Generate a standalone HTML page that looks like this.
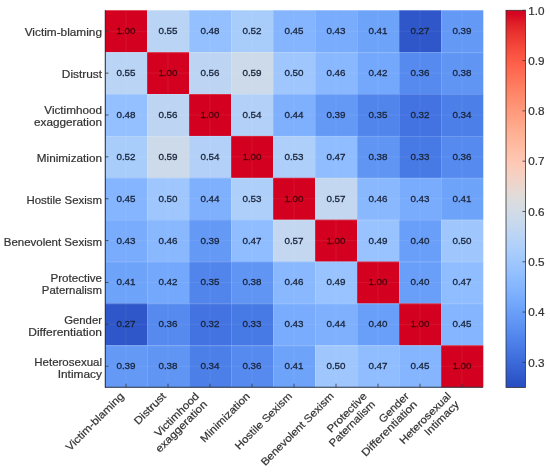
<!DOCTYPE html><html><head><meta charset="utf-8"><style>html,body{margin:0;padding:0;background:#fff;overflow:hidden;}svg{display:block;filter:blur(0.35px);}text{font-family:"Liberation Sans",sans-serif;}</style></head><body>
<svg width="550" height="472" viewBox="0 0 550 472">
<rect width="550" height="472" fill="#fff"/>
<rect x="105.00" y="10.30" width="42.30" height="42.17" fill="#d3001f"/>
<rect x="147.00" y="10.30" width="42.30" height="42.17" fill="#b9d4f5"/>
<rect x="189.00" y="10.30" width="42.30" height="42.17" fill="#94c0ff"/>
<rect x="231.00" y="10.30" width="42.30" height="42.17" fill="#a9cdfb"/>
<rect x="273.00" y="10.30" width="42.30" height="42.17" fill="#84b5fe"/>
<rect x="315.00" y="10.30" width="42.30" height="42.17" fill="#79acfd"/>
<rect x="357.00" y="10.30" width="42.30" height="42.17" fill="#6ea3fa"/>
<rect x="399.00" y="10.30" width="42.30" height="42.17" fill="#2f57c9"/>
<rect x="441.00" y="10.30" width="42.30" height="42.17" fill="#6499f6"/>
<rect x="105.00" y="52.17" width="42.30" height="42.17" fill="#b9d4f5"/>
<rect x="147.00" y="52.17" width="42.30" height="42.17" fill="#d3001f"/>
<rect x="189.00" y="52.17" width="42.30" height="42.17" fill="#bdd5f3"/>
<rect x="231.00" y="52.17" width="42.30" height="42.17" fill="#cddae9"/>
<rect x="273.00" y="52.17" width="42.30" height="42.17" fill="#9fc7fd"/>
<rect x="315.00" y="52.17" width="42.30" height="42.17" fill="#89b8ff"/>
<rect x="357.00" y="52.17" width="42.30" height="42.17" fill="#74a8fc"/>
<rect x="399.00" y="52.17" width="42.30" height="42.17" fill="#568aef"/>
<rect x="441.00" y="52.17" width="42.30" height="42.17" fill="#6095f4"/>
<rect x="105.00" y="94.05" width="42.30" height="42.17" fill="#94c0ff"/>
<rect x="147.00" y="94.05" width="42.30" height="42.17" fill="#bdd5f3"/>
<rect x="189.00" y="94.05" width="42.30" height="42.17" fill="#d3001f"/>
<rect x="231.00" y="94.05" width="42.30" height="42.17" fill="#b3d1f8"/>
<rect x="273.00" y="94.05" width="42.30" height="42.17" fill="#7eb0fe"/>
<rect x="315.00" y="94.05" width="42.30" height="42.17" fill="#6499f6"/>
<rect x="357.00" y="94.05" width="42.30" height="42.17" fill="#5285ec"/>
<rect x="399.00" y="94.05" width="42.30" height="42.17" fill="#4373e0"/>
<rect x="441.00" y="94.05" width="42.30" height="42.17" fill="#4c7fe8"/>
<rect x="105.00" y="135.93" width="42.30" height="42.17" fill="#a9cdfb"/>
<rect x="147.00" y="135.93" width="42.30" height="42.17" fill="#cddae9"/>
<rect x="189.00" y="135.93" width="42.30" height="42.17" fill="#b3d1f8"/>
<rect x="231.00" y="135.93" width="42.30" height="42.17" fill="#d3001f"/>
<rect x="273.00" y="135.93" width="42.30" height="42.17" fill="#aecff9"/>
<rect x="315.00" y="135.93" width="42.30" height="42.17" fill="#8fbdff"/>
<rect x="357.00" y="135.93" width="42.30" height="42.17" fill="#6095f4"/>
<rect x="399.00" y="135.93" width="42.30" height="42.17" fill="#487ae5"/>
<rect x="441.00" y="135.93" width="42.30" height="42.17" fill="#568aef"/>
<rect x="105.00" y="177.80" width="42.30" height="42.17" fill="#84b5fe"/>
<rect x="147.00" y="177.80" width="42.30" height="42.17" fill="#9fc7fd"/>
<rect x="189.00" y="177.80" width="42.30" height="42.17" fill="#7eb0fe"/>
<rect x="231.00" y="177.80" width="42.30" height="42.17" fill="#aecff9"/>
<rect x="273.00" y="177.80" width="42.30" height="42.17" fill="#d3001f"/>
<rect x="315.00" y="177.80" width="42.30" height="42.17" fill="#c3d7f0"/>
<rect x="357.00" y="177.80" width="42.30" height="42.17" fill="#89b8ff"/>
<rect x="399.00" y="177.80" width="42.30" height="42.17" fill="#79acfd"/>
<rect x="441.00" y="177.80" width="42.30" height="42.17" fill="#6ea3fa"/>
<rect x="105.00" y="219.68" width="42.30" height="42.17" fill="#79acfd"/>
<rect x="147.00" y="219.68" width="42.30" height="42.17" fill="#89b8ff"/>
<rect x="189.00" y="219.68" width="42.30" height="42.17" fill="#6499f6"/>
<rect x="231.00" y="219.68" width="42.30" height="42.17" fill="#8fbdff"/>
<rect x="273.00" y="219.68" width="42.30" height="42.17" fill="#c3d7f0"/>
<rect x="315.00" y="219.68" width="42.30" height="42.17" fill="#d3001f"/>
<rect x="357.00" y="219.68" width="42.30" height="42.17" fill="#98c3fe"/>
<rect x="399.00" y="219.68" width="42.30" height="42.17" fill="#6a9ff9"/>
<rect x="441.00" y="219.68" width="42.30" height="42.17" fill="#9fc7fd"/>
<rect x="105.00" y="261.55" width="42.30" height="42.17" fill="#6ea3fa"/>
<rect x="147.00" y="261.55" width="42.30" height="42.17" fill="#74a8fc"/>
<rect x="189.00" y="261.55" width="42.30" height="42.17" fill="#5285ec"/>
<rect x="231.00" y="261.55" width="42.30" height="42.17" fill="#6095f4"/>
<rect x="273.00" y="261.55" width="42.30" height="42.17" fill="#89b8ff"/>
<rect x="315.00" y="261.55" width="42.30" height="42.17" fill="#98c3fe"/>
<rect x="357.00" y="261.55" width="42.30" height="42.17" fill="#d3001f"/>
<rect x="399.00" y="261.55" width="42.30" height="42.17" fill="#6a9ff9"/>
<rect x="441.00" y="261.55" width="42.30" height="42.17" fill="#8fbdff"/>
<rect x="105.00" y="303.43" width="42.30" height="42.17" fill="#2f57c9"/>
<rect x="147.00" y="303.43" width="42.30" height="42.17" fill="#568aef"/>
<rect x="189.00" y="303.43" width="42.30" height="42.17" fill="#4373e0"/>
<rect x="231.00" y="303.43" width="42.30" height="42.17" fill="#487ae5"/>
<rect x="273.00" y="303.43" width="42.30" height="42.17" fill="#79acfd"/>
<rect x="315.00" y="303.43" width="42.30" height="42.17" fill="#7eb0fe"/>
<rect x="357.00" y="303.43" width="42.30" height="42.17" fill="#6a9ff9"/>
<rect x="399.00" y="303.43" width="42.30" height="42.17" fill="#d3001f"/>
<rect x="441.00" y="303.43" width="42.30" height="42.17" fill="#84b5fe"/>
<rect x="105.00" y="345.30" width="42.30" height="42.17" fill="#6499f6"/>
<rect x="147.00" y="345.30" width="42.30" height="42.17" fill="#6095f4"/>
<rect x="189.00" y="345.30" width="42.30" height="42.17" fill="#4c7fe8"/>
<rect x="231.00" y="345.30" width="42.30" height="42.17" fill="#568aef"/>
<rect x="273.00" y="345.30" width="42.30" height="42.17" fill="#6ea3fa"/>
<rect x="315.00" y="345.30" width="42.30" height="42.17" fill="#9fc7fd"/>
<rect x="357.00" y="345.30" width="42.30" height="42.17" fill="#8fbdff"/>
<rect x="399.00" y="345.30" width="42.30" height="42.17" fill="#84b5fe"/>
<rect x="441.00" y="345.30" width="42.30" height="42.17" fill="#d3001f"/>
<line x1="126.00" y1="10.3" x2="126.00" y2="387.18" stroke="#fff" stroke-opacity="0.09" stroke-width="0.8"/>
<line x1="105.0" y1="31.24" x2="483.00" y2="31.24" stroke="#fff" stroke-opacity="0.09" stroke-width="0.8"/>
<line x1="168.00" y1="10.3" x2="168.00" y2="387.18" stroke="#fff" stroke-opacity="0.09" stroke-width="0.8"/>
<line x1="105.0" y1="73.11" x2="483.00" y2="73.11" stroke="#fff" stroke-opacity="0.09" stroke-width="0.8"/>
<line x1="210.00" y1="10.3" x2="210.00" y2="387.18" stroke="#fff" stroke-opacity="0.09" stroke-width="0.8"/>
<line x1="105.0" y1="114.99" x2="483.00" y2="114.99" stroke="#fff" stroke-opacity="0.09" stroke-width="0.8"/>
<line x1="252.00" y1="10.3" x2="252.00" y2="387.18" stroke="#fff" stroke-opacity="0.09" stroke-width="0.8"/>
<line x1="105.0" y1="156.86" x2="483.00" y2="156.86" stroke="#fff" stroke-opacity="0.09" stroke-width="0.8"/>
<line x1="294.00" y1="10.3" x2="294.00" y2="387.18" stroke="#fff" stroke-opacity="0.09" stroke-width="0.8"/>
<line x1="105.0" y1="198.74" x2="483.00" y2="198.74" stroke="#fff" stroke-opacity="0.09" stroke-width="0.8"/>
<line x1="336.00" y1="10.3" x2="336.00" y2="387.18" stroke="#fff" stroke-opacity="0.09" stroke-width="0.8"/>
<line x1="105.0" y1="240.61" x2="483.00" y2="240.61" stroke="#fff" stroke-opacity="0.09" stroke-width="0.8"/>
<line x1="378.00" y1="10.3" x2="378.00" y2="387.18" stroke="#fff" stroke-opacity="0.09" stroke-width="0.8"/>
<line x1="105.0" y1="282.49" x2="483.00" y2="282.49" stroke="#fff" stroke-opacity="0.09" stroke-width="0.8"/>
<line x1="420.00" y1="10.3" x2="420.00" y2="387.18" stroke="#fff" stroke-opacity="0.09" stroke-width="0.8"/>
<line x1="105.0" y1="324.36" x2="483.00" y2="324.36" stroke="#fff" stroke-opacity="0.09" stroke-width="0.8"/>
<line x1="462.00" y1="10.3" x2="462.00" y2="387.18" stroke="#fff" stroke-opacity="0.09" stroke-width="0.8"/>
<line x1="105.0" y1="366.24" x2="483.00" y2="366.24" stroke="#fff" stroke-opacity="0.09" stroke-width="0.8"/>
<line x1="147.50" y1="10.3" x2="147.50" y2="387.18" stroke="#fff" stroke-opacity="0.15" stroke-width="1"/>
<line x1="105.0" y1="52.67" x2="483.00" y2="52.67" stroke="#fff" stroke-opacity="0.15" stroke-width="1"/>
<line x1="189.50" y1="10.3" x2="189.50" y2="387.18" stroke="#fff" stroke-opacity="0.15" stroke-width="1"/>
<line x1="105.0" y1="94.55" x2="483.00" y2="94.55" stroke="#fff" stroke-opacity="0.15" stroke-width="1"/>
<line x1="231.50" y1="10.3" x2="231.50" y2="387.18" stroke="#fff" stroke-opacity="0.15" stroke-width="1"/>
<line x1="105.0" y1="136.43" x2="483.00" y2="136.43" stroke="#fff" stroke-opacity="0.15" stroke-width="1"/>
<line x1="273.50" y1="10.3" x2="273.50" y2="387.18" stroke="#fff" stroke-opacity="0.15" stroke-width="1"/>
<line x1="105.0" y1="178.30" x2="483.00" y2="178.30" stroke="#fff" stroke-opacity="0.15" stroke-width="1"/>
<line x1="315.50" y1="10.3" x2="315.50" y2="387.18" stroke="#fff" stroke-opacity="0.15" stroke-width="1"/>
<line x1="105.0" y1="220.18" x2="483.00" y2="220.18" stroke="#fff" stroke-opacity="0.15" stroke-width="1"/>
<line x1="357.50" y1="10.3" x2="357.50" y2="387.18" stroke="#fff" stroke-opacity="0.15" stroke-width="1"/>
<line x1="105.0" y1="262.05" x2="483.00" y2="262.05" stroke="#fff" stroke-opacity="0.15" stroke-width="1"/>
<line x1="399.50" y1="10.3" x2="399.50" y2="387.18" stroke="#fff" stroke-opacity="0.15" stroke-width="1"/>
<line x1="105.0" y1="303.93" x2="483.00" y2="303.93" stroke="#fff" stroke-opacity="0.15" stroke-width="1"/>
<line x1="441.50" y1="10.3" x2="441.50" y2="387.18" stroke="#fff" stroke-opacity="0.15" stroke-width="1"/>
<line x1="105.0" y1="345.80" x2="483.00" y2="345.80" stroke="#fff" stroke-opacity="0.15" stroke-width="1"/>
<text x="126.00" y="34.14" font-size="9.80" text-anchor="middle" fill="#4a000c" stroke="#4a000c" stroke-width="0.3" textLength="19.15" lengthAdjust="spacingAndGlyphs">1.00</text>
<text x="168.00" y="34.14" font-size="9.80" text-anchor="middle" fill="#18243a" stroke="#18243a" stroke-width="0.3" textLength="19.15" lengthAdjust="spacingAndGlyphs">0.55</text>
<text x="210.00" y="34.14" font-size="9.80" text-anchor="middle" fill="#18243a" stroke="#18243a" stroke-width="0.3" textLength="19.15" lengthAdjust="spacingAndGlyphs">0.48</text>
<text x="252.00" y="34.14" font-size="9.80" text-anchor="middle" fill="#18243a" stroke="#18243a" stroke-width="0.3" textLength="19.15" lengthAdjust="spacingAndGlyphs">0.52</text>
<text x="294.00" y="34.14" font-size="9.80" text-anchor="middle" fill="#18243a" stroke="#18243a" stroke-width="0.3" textLength="19.15" lengthAdjust="spacingAndGlyphs">0.45</text>
<text x="336.00" y="34.14" font-size="9.80" text-anchor="middle" fill="#18243a" stroke="#18243a" stroke-width="0.3" textLength="19.15" lengthAdjust="spacingAndGlyphs">0.43</text>
<text x="378.00" y="34.14" font-size="9.80" text-anchor="middle" fill="#18243a" stroke="#18243a" stroke-width="0.3" textLength="19.15" lengthAdjust="spacingAndGlyphs">0.41</text>
<text x="420.00" y="34.14" font-size="9.80" text-anchor="middle" fill="#18243a" stroke="#18243a" stroke-width="0.3" textLength="19.15" lengthAdjust="spacingAndGlyphs">0.27</text>
<text x="462.00" y="34.14" font-size="9.80" text-anchor="middle" fill="#18243a" stroke="#18243a" stroke-width="0.3" textLength="19.15" lengthAdjust="spacingAndGlyphs">0.39</text>
<text x="126.00" y="76.01" font-size="9.80" text-anchor="middle" fill="#18243a" stroke="#18243a" stroke-width="0.3" textLength="19.15" lengthAdjust="spacingAndGlyphs">0.55</text>
<text x="168.00" y="76.01" font-size="9.80" text-anchor="middle" fill="#4a000c" stroke="#4a000c" stroke-width="0.3" textLength="19.15" lengthAdjust="spacingAndGlyphs">1.00</text>
<text x="210.00" y="76.01" font-size="9.80" text-anchor="middle" fill="#18243a" stroke="#18243a" stroke-width="0.3" textLength="19.15" lengthAdjust="spacingAndGlyphs">0.56</text>
<text x="252.00" y="76.01" font-size="9.80" text-anchor="middle" fill="#18243a" stroke="#18243a" stroke-width="0.3" textLength="19.15" lengthAdjust="spacingAndGlyphs">0.59</text>
<text x="294.00" y="76.01" font-size="9.80" text-anchor="middle" fill="#18243a" stroke="#18243a" stroke-width="0.3" textLength="19.15" lengthAdjust="spacingAndGlyphs">0.50</text>
<text x="336.00" y="76.01" font-size="9.80" text-anchor="middle" fill="#18243a" stroke="#18243a" stroke-width="0.3" textLength="19.15" lengthAdjust="spacingAndGlyphs">0.46</text>
<text x="378.00" y="76.01" font-size="9.80" text-anchor="middle" fill="#18243a" stroke="#18243a" stroke-width="0.3" textLength="19.15" lengthAdjust="spacingAndGlyphs">0.42</text>
<text x="420.00" y="76.01" font-size="9.80" text-anchor="middle" fill="#18243a" stroke="#18243a" stroke-width="0.3" textLength="19.15" lengthAdjust="spacingAndGlyphs">0.36</text>
<text x="462.00" y="76.01" font-size="9.80" text-anchor="middle" fill="#18243a" stroke="#18243a" stroke-width="0.3" textLength="19.15" lengthAdjust="spacingAndGlyphs">0.38</text>
<text x="126.00" y="117.89" font-size="9.80" text-anchor="middle" fill="#18243a" stroke="#18243a" stroke-width="0.3" textLength="19.15" lengthAdjust="spacingAndGlyphs">0.48</text>
<text x="168.00" y="117.89" font-size="9.80" text-anchor="middle" fill="#18243a" stroke="#18243a" stroke-width="0.3" textLength="19.15" lengthAdjust="spacingAndGlyphs">0.56</text>
<text x="210.00" y="117.89" font-size="9.80" text-anchor="middle" fill="#4a000c" stroke="#4a000c" stroke-width="0.3" textLength="19.15" lengthAdjust="spacingAndGlyphs">1.00</text>
<text x="252.00" y="117.89" font-size="9.80" text-anchor="middle" fill="#18243a" stroke="#18243a" stroke-width="0.3" textLength="19.15" lengthAdjust="spacingAndGlyphs">0.54</text>
<text x="294.00" y="117.89" font-size="9.80" text-anchor="middle" fill="#18243a" stroke="#18243a" stroke-width="0.3" textLength="19.15" lengthAdjust="spacingAndGlyphs">0.44</text>
<text x="336.00" y="117.89" font-size="9.80" text-anchor="middle" fill="#18243a" stroke="#18243a" stroke-width="0.3" textLength="19.15" lengthAdjust="spacingAndGlyphs">0.39</text>
<text x="378.00" y="117.89" font-size="9.80" text-anchor="middle" fill="#18243a" stroke="#18243a" stroke-width="0.3" textLength="19.15" lengthAdjust="spacingAndGlyphs">0.35</text>
<text x="420.00" y="117.89" font-size="9.80" text-anchor="middle" fill="#18243a" stroke="#18243a" stroke-width="0.3" textLength="19.15" lengthAdjust="spacingAndGlyphs">0.32</text>
<text x="462.00" y="117.89" font-size="9.80" text-anchor="middle" fill="#18243a" stroke="#18243a" stroke-width="0.3" textLength="19.15" lengthAdjust="spacingAndGlyphs">0.34</text>
<text x="126.00" y="159.76" font-size="9.80" text-anchor="middle" fill="#18243a" stroke="#18243a" stroke-width="0.3" textLength="19.15" lengthAdjust="spacingAndGlyphs">0.52</text>
<text x="168.00" y="159.76" font-size="9.80" text-anchor="middle" fill="#18243a" stroke="#18243a" stroke-width="0.3" textLength="19.15" lengthAdjust="spacingAndGlyphs">0.59</text>
<text x="210.00" y="159.76" font-size="9.80" text-anchor="middle" fill="#18243a" stroke="#18243a" stroke-width="0.3" textLength="19.15" lengthAdjust="spacingAndGlyphs">0.54</text>
<text x="252.00" y="159.76" font-size="9.80" text-anchor="middle" fill="#4a000c" stroke="#4a000c" stroke-width="0.3" textLength="19.15" lengthAdjust="spacingAndGlyphs">1.00</text>
<text x="294.00" y="159.76" font-size="9.80" text-anchor="middle" fill="#18243a" stroke="#18243a" stroke-width="0.3" textLength="19.15" lengthAdjust="spacingAndGlyphs">0.53</text>
<text x="336.00" y="159.76" font-size="9.80" text-anchor="middle" fill="#18243a" stroke="#18243a" stroke-width="0.3" textLength="19.15" lengthAdjust="spacingAndGlyphs">0.47</text>
<text x="378.00" y="159.76" font-size="9.80" text-anchor="middle" fill="#18243a" stroke="#18243a" stroke-width="0.3" textLength="19.15" lengthAdjust="spacingAndGlyphs">0.38</text>
<text x="420.00" y="159.76" font-size="9.80" text-anchor="middle" fill="#18243a" stroke="#18243a" stroke-width="0.3" textLength="19.15" lengthAdjust="spacingAndGlyphs">0.33</text>
<text x="462.00" y="159.76" font-size="9.80" text-anchor="middle" fill="#18243a" stroke="#18243a" stroke-width="0.3" textLength="19.15" lengthAdjust="spacingAndGlyphs">0.36</text>
<text x="126.00" y="201.64" font-size="9.80" text-anchor="middle" fill="#18243a" stroke="#18243a" stroke-width="0.3" textLength="19.15" lengthAdjust="spacingAndGlyphs">0.45</text>
<text x="168.00" y="201.64" font-size="9.80" text-anchor="middle" fill="#18243a" stroke="#18243a" stroke-width="0.3" textLength="19.15" lengthAdjust="spacingAndGlyphs">0.50</text>
<text x="210.00" y="201.64" font-size="9.80" text-anchor="middle" fill="#18243a" stroke="#18243a" stroke-width="0.3" textLength="19.15" lengthAdjust="spacingAndGlyphs">0.44</text>
<text x="252.00" y="201.64" font-size="9.80" text-anchor="middle" fill="#18243a" stroke="#18243a" stroke-width="0.3" textLength="19.15" lengthAdjust="spacingAndGlyphs">0.53</text>
<text x="294.00" y="201.64" font-size="9.80" text-anchor="middle" fill="#4a000c" stroke="#4a000c" stroke-width="0.3" textLength="19.15" lengthAdjust="spacingAndGlyphs">1.00</text>
<text x="336.00" y="201.64" font-size="9.80" text-anchor="middle" fill="#18243a" stroke="#18243a" stroke-width="0.3" textLength="19.15" lengthAdjust="spacingAndGlyphs">0.57</text>
<text x="378.00" y="201.64" font-size="9.80" text-anchor="middle" fill="#18243a" stroke="#18243a" stroke-width="0.3" textLength="19.15" lengthAdjust="spacingAndGlyphs">0.46</text>
<text x="420.00" y="201.64" font-size="9.80" text-anchor="middle" fill="#18243a" stroke="#18243a" stroke-width="0.3" textLength="19.15" lengthAdjust="spacingAndGlyphs">0.43</text>
<text x="462.00" y="201.64" font-size="9.80" text-anchor="middle" fill="#18243a" stroke="#18243a" stroke-width="0.3" textLength="19.15" lengthAdjust="spacingAndGlyphs">0.41</text>
<text x="126.00" y="243.51" font-size="9.80" text-anchor="middle" fill="#18243a" stroke="#18243a" stroke-width="0.3" textLength="19.15" lengthAdjust="spacingAndGlyphs">0.43</text>
<text x="168.00" y="243.51" font-size="9.80" text-anchor="middle" fill="#18243a" stroke="#18243a" stroke-width="0.3" textLength="19.15" lengthAdjust="spacingAndGlyphs">0.46</text>
<text x="210.00" y="243.51" font-size="9.80" text-anchor="middle" fill="#18243a" stroke="#18243a" stroke-width="0.3" textLength="19.15" lengthAdjust="spacingAndGlyphs">0.39</text>
<text x="252.00" y="243.51" font-size="9.80" text-anchor="middle" fill="#18243a" stroke="#18243a" stroke-width="0.3" textLength="19.15" lengthAdjust="spacingAndGlyphs">0.47</text>
<text x="294.00" y="243.51" font-size="9.80" text-anchor="middle" fill="#18243a" stroke="#18243a" stroke-width="0.3" textLength="19.15" lengthAdjust="spacingAndGlyphs">0.57</text>
<text x="336.00" y="243.51" font-size="9.80" text-anchor="middle" fill="#4a000c" stroke="#4a000c" stroke-width="0.3" textLength="19.15" lengthAdjust="spacingAndGlyphs">1.00</text>
<text x="378.00" y="243.51" font-size="9.80" text-anchor="middle" fill="#18243a" stroke="#18243a" stroke-width="0.3" textLength="19.15" lengthAdjust="spacingAndGlyphs">0.49</text>
<text x="420.00" y="243.51" font-size="9.80" text-anchor="middle" fill="#18243a" stroke="#18243a" stroke-width="0.3" textLength="19.15" lengthAdjust="spacingAndGlyphs">0.40</text>
<text x="462.00" y="243.51" font-size="9.80" text-anchor="middle" fill="#18243a" stroke="#18243a" stroke-width="0.3" textLength="19.15" lengthAdjust="spacingAndGlyphs">0.50</text>
<text x="126.00" y="285.39" font-size="9.80" text-anchor="middle" fill="#18243a" stroke="#18243a" stroke-width="0.3" textLength="19.15" lengthAdjust="spacingAndGlyphs">0.41</text>
<text x="168.00" y="285.39" font-size="9.80" text-anchor="middle" fill="#18243a" stroke="#18243a" stroke-width="0.3" textLength="19.15" lengthAdjust="spacingAndGlyphs">0.42</text>
<text x="210.00" y="285.39" font-size="9.80" text-anchor="middle" fill="#18243a" stroke="#18243a" stroke-width="0.3" textLength="19.15" lengthAdjust="spacingAndGlyphs">0.35</text>
<text x="252.00" y="285.39" font-size="9.80" text-anchor="middle" fill="#18243a" stroke="#18243a" stroke-width="0.3" textLength="19.15" lengthAdjust="spacingAndGlyphs">0.38</text>
<text x="294.00" y="285.39" font-size="9.80" text-anchor="middle" fill="#18243a" stroke="#18243a" stroke-width="0.3" textLength="19.15" lengthAdjust="spacingAndGlyphs">0.46</text>
<text x="336.00" y="285.39" font-size="9.80" text-anchor="middle" fill="#18243a" stroke="#18243a" stroke-width="0.3" textLength="19.15" lengthAdjust="spacingAndGlyphs">0.49</text>
<text x="378.00" y="285.39" font-size="9.80" text-anchor="middle" fill="#4a000c" stroke="#4a000c" stroke-width="0.3" textLength="19.15" lengthAdjust="spacingAndGlyphs">1.00</text>
<text x="420.00" y="285.39" font-size="9.80" text-anchor="middle" fill="#18243a" stroke="#18243a" stroke-width="0.3" textLength="19.15" lengthAdjust="spacingAndGlyphs">0.40</text>
<text x="462.00" y="285.39" font-size="9.80" text-anchor="middle" fill="#18243a" stroke="#18243a" stroke-width="0.3" textLength="19.15" lengthAdjust="spacingAndGlyphs">0.47</text>
<text x="126.00" y="327.26" font-size="9.80" text-anchor="middle" fill="#18243a" stroke="#18243a" stroke-width="0.3" textLength="19.15" lengthAdjust="spacingAndGlyphs">0.27</text>
<text x="168.00" y="327.26" font-size="9.80" text-anchor="middle" fill="#18243a" stroke="#18243a" stroke-width="0.3" textLength="19.15" lengthAdjust="spacingAndGlyphs">0.36</text>
<text x="210.00" y="327.26" font-size="9.80" text-anchor="middle" fill="#18243a" stroke="#18243a" stroke-width="0.3" textLength="19.15" lengthAdjust="spacingAndGlyphs">0.32</text>
<text x="252.00" y="327.26" font-size="9.80" text-anchor="middle" fill="#18243a" stroke="#18243a" stroke-width="0.3" textLength="19.15" lengthAdjust="spacingAndGlyphs">0.33</text>
<text x="294.00" y="327.26" font-size="9.80" text-anchor="middle" fill="#18243a" stroke="#18243a" stroke-width="0.3" textLength="19.15" lengthAdjust="spacingAndGlyphs">0.43</text>
<text x="336.00" y="327.26" font-size="9.80" text-anchor="middle" fill="#18243a" stroke="#18243a" stroke-width="0.3" textLength="19.15" lengthAdjust="spacingAndGlyphs">0.44</text>
<text x="378.00" y="327.26" font-size="9.80" text-anchor="middle" fill="#18243a" stroke="#18243a" stroke-width="0.3" textLength="19.15" lengthAdjust="spacingAndGlyphs">0.40</text>
<text x="420.00" y="327.26" font-size="9.80" text-anchor="middle" fill="#4a000c" stroke="#4a000c" stroke-width="0.3" textLength="19.15" lengthAdjust="spacingAndGlyphs">1.00</text>
<text x="462.00" y="327.26" font-size="9.80" text-anchor="middle" fill="#18243a" stroke="#18243a" stroke-width="0.3" textLength="19.15" lengthAdjust="spacingAndGlyphs">0.45</text>
<text x="126.00" y="369.14" font-size="9.80" text-anchor="middle" fill="#18243a" stroke="#18243a" stroke-width="0.3" textLength="19.15" lengthAdjust="spacingAndGlyphs">0.39</text>
<text x="168.00" y="369.14" font-size="9.80" text-anchor="middle" fill="#18243a" stroke="#18243a" stroke-width="0.3" textLength="19.15" lengthAdjust="spacingAndGlyphs">0.38</text>
<text x="210.00" y="369.14" font-size="9.80" text-anchor="middle" fill="#18243a" stroke="#18243a" stroke-width="0.3" textLength="19.15" lengthAdjust="spacingAndGlyphs">0.34</text>
<text x="252.00" y="369.14" font-size="9.80" text-anchor="middle" fill="#18243a" stroke="#18243a" stroke-width="0.3" textLength="19.15" lengthAdjust="spacingAndGlyphs">0.36</text>
<text x="294.00" y="369.14" font-size="9.80" text-anchor="middle" fill="#18243a" stroke="#18243a" stroke-width="0.3" textLength="19.15" lengthAdjust="spacingAndGlyphs">0.41</text>
<text x="336.00" y="369.14" font-size="9.80" text-anchor="middle" fill="#18243a" stroke="#18243a" stroke-width="0.3" textLength="19.15" lengthAdjust="spacingAndGlyphs">0.50</text>
<text x="378.00" y="369.14" font-size="9.80" text-anchor="middle" fill="#18243a" stroke="#18243a" stroke-width="0.3" textLength="19.15" lengthAdjust="spacingAndGlyphs">0.47</text>
<text x="420.00" y="369.14" font-size="9.80" text-anchor="middle" fill="#18243a" stroke="#18243a" stroke-width="0.3" textLength="19.15" lengthAdjust="spacingAndGlyphs">0.45</text>
<text x="462.00" y="369.14" font-size="9.80" text-anchor="middle" fill="#4a000c" stroke="#4a000c" stroke-width="0.3" textLength="19.15" lengthAdjust="spacingAndGlyphs">1.00</text>
<line x1="105.3" y1="10.3" x2="105.3" y2="387.68" stroke="#2c3440" stroke-width="1.1"/>
<line x1="105.0" y1="387.18" x2="483.00" y2="387.18" stroke="#2c3440" stroke-width="1.1"/>
<line x1="105.0" y1="31.24" x2="108.5" y2="31.24" stroke="#333" stroke-width="0.8"/>
<line x1="126.00" y1="387.18" x2="126.00" y2="383.68" stroke="#333" stroke-width="0.8"/>
<line x1="105.0" y1="73.11" x2="108.5" y2="73.11" stroke="#333" stroke-width="0.8"/>
<line x1="168.00" y1="387.18" x2="168.00" y2="383.68" stroke="#333" stroke-width="0.8"/>
<line x1="105.0" y1="114.99" x2="108.5" y2="114.99" stroke="#333" stroke-width="0.8"/>
<line x1="210.00" y1="387.18" x2="210.00" y2="383.68" stroke="#333" stroke-width="0.8"/>
<line x1="105.0" y1="156.86" x2="108.5" y2="156.86" stroke="#333" stroke-width="0.8"/>
<line x1="252.00" y1="387.18" x2="252.00" y2="383.68" stroke="#333" stroke-width="0.8"/>
<line x1="105.0" y1="198.74" x2="108.5" y2="198.74" stroke="#333" stroke-width="0.8"/>
<line x1="294.00" y1="387.18" x2="294.00" y2="383.68" stroke="#333" stroke-width="0.8"/>
<line x1="105.0" y1="240.61" x2="108.5" y2="240.61" stroke="#333" stroke-width="0.8"/>
<line x1="336.00" y1="387.18" x2="336.00" y2="383.68" stroke="#333" stroke-width="0.8"/>
<line x1="105.0" y1="282.49" x2="108.5" y2="282.49" stroke="#333" stroke-width="0.8"/>
<line x1="378.00" y1="387.18" x2="378.00" y2="383.68" stroke="#333" stroke-width="0.8"/>
<line x1="105.0" y1="324.36" x2="108.5" y2="324.36" stroke="#333" stroke-width="0.8"/>
<line x1="420.00" y1="387.18" x2="420.00" y2="383.68" stroke="#333" stroke-width="0.8"/>
<line x1="105.0" y1="366.24" x2="108.5" y2="366.24" stroke="#333" stroke-width="0.8"/>
<line x1="462.00" y1="387.18" x2="462.00" y2="383.68" stroke="#333" stroke-width="0.8"/>
<text x="102.00" y="35.84" font-size="10.60" text-anchor="end" fill="#333333" stroke="#333333" stroke-width="0.2" textLength="77.29" lengthAdjust="spacingAndGlyphs">Victim-blaming</text>
<text x="102.00" y="77.86" font-size="10.60" text-anchor="end" fill="#333333" stroke="#333333" stroke-width="0.2" textLength="40.17" lengthAdjust="spacingAndGlyphs">Distrust</text>
<text x="102.00" y="114.09" font-size="10.60" text-anchor="end" fill="#333333" stroke="#333333" stroke-width="0.2" textLength="57.67" lengthAdjust="spacingAndGlyphs">Victimhood</text>
<text x="102.00" y="125.69" font-size="10.60" text-anchor="end" fill="#333333" stroke="#333333" stroke-width="0.2" textLength="67.92" lengthAdjust="spacingAndGlyphs">exaggeration</text>
<text x="102.00" y="161.91" font-size="10.60" text-anchor="end" fill="#333333" stroke="#333333" stroke-width="0.2" textLength="65.16" lengthAdjust="spacingAndGlyphs">Minimization</text>
<text x="102.00" y="203.94" font-size="10.60" text-anchor="end" fill="#333333" stroke="#333333" stroke-width="0.2" textLength="75.47" lengthAdjust="spacingAndGlyphs">Hostile Sexism</text>
<text x="102.00" y="245.96" font-size="10.60" text-anchor="end" fill="#333333" stroke="#333333" stroke-width="0.2" textLength="98.28" lengthAdjust="spacingAndGlyphs">Benevolent Sexism</text>
<text x="102.00" y="282.19" font-size="10.60" text-anchor="end" fill="#333333" stroke="#333333" stroke-width="0.2" textLength="51.46" lengthAdjust="spacingAndGlyphs">Protective</text>
<text x="102.00" y="293.79" font-size="10.60" text-anchor="end" fill="#333333" stroke="#333333" stroke-width="0.2" textLength="60.16" lengthAdjust="spacingAndGlyphs">Paternalism</text>
<text x="102.00" y="324.21" font-size="10.60" text-anchor="end" fill="#333333" stroke="#333333" stroke-width="0.2" textLength="37.77" lengthAdjust="spacingAndGlyphs">Gender</text>
<text x="102.00" y="335.81" font-size="10.60" text-anchor="end" fill="#333333" stroke="#333333" stroke-width="0.2" textLength="73.68" lengthAdjust="spacingAndGlyphs">Differentiation</text>
<text x="102.00" y="366.24" font-size="10.60" text-anchor="end" fill="#333333" stroke="#333333" stroke-width="0.2" textLength="67.76" lengthAdjust="spacingAndGlyphs">Heterosexual</text>
<text x="102.00" y="377.84" font-size="10.60" text-anchor="end" fill="#333333" stroke="#333333" stroke-width="0.2" textLength="44.35" lengthAdjust="spacingAndGlyphs">Intimacy</text>
<g class="xl" transform="translate(118.60,390.80) rotate(-45)"><text x="0.00" y="8.50" font-size="10.60" text-anchor="end" fill="#333333" stroke="#333333" stroke-width="0.2" textLength="77.29" lengthAdjust="spacingAndGlyphs">Victim-blaming</text></g>
<g class="xl" transform="translate(160.60,390.80) rotate(-45)"><text x="0.00" y="8.50" font-size="10.60" text-anchor="end" fill="#333333" stroke="#333333" stroke-width="0.2" textLength="40.17" lengthAdjust="spacingAndGlyphs">Distrust</text></g>
<g class="xl" transform="translate(193.60,390.80) rotate(-45)"><text x="0.00" y="8.50" font-size="10.60" text-anchor="end" fill="#333333" stroke="#333333" stroke-width="0.2" textLength="57.67" lengthAdjust="spacingAndGlyphs">Victimhood</text><text x="0.00" y="20.10" font-size="10.60" text-anchor="end" fill="#333333" stroke="#333333" stroke-width="0.2" textLength="67.92" lengthAdjust="spacingAndGlyphs">exaggeration</text></g>
<g class="xl" transform="translate(244.60,390.80) rotate(-45)"><text x="0.00" y="8.50" font-size="10.60" text-anchor="end" fill="#333333" stroke="#333333" stroke-width="0.2" textLength="65.16" lengthAdjust="spacingAndGlyphs">Minimization</text></g>
<g class="xl" transform="translate(286.60,390.80) rotate(-45)"><text x="0.00" y="8.50" font-size="10.60" text-anchor="end" fill="#333333" stroke="#333333" stroke-width="0.2" textLength="75.47" lengthAdjust="spacingAndGlyphs">Hostile Sexism</text></g>
<g class="xl" transform="translate(328.60,390.80) rotate(-45)"><text x="0.00" y="8.50" font-size="10.60" text-anchor="end" fill="#333333" stroke="#333333" stroke-width="0.2" textLength="98.28" lengthAdjust="spacingAndGlyphs">Benevolent Sexism</text></g>
<g class="xl" transform="translate(361.60,390.80) rotate(-45)"><text x="0.00" y="8.50" font-size="10.60" text-anchor="end" fill="#333333" stroke="#333333" stroke-width="0.2" textLength="51.46" lengthAdjust="spacingAndGlyphs">Protective</text><text x="0.00" y="20.10" font-size="10.60" text-anchor="end" fill="#333333" stroke="#333333" stroke-width="0.2" textLength="60.16" lengthAdjust="spacingAndGlyphs">Paternalism</text></g>
<g class="xl" transform="translate(403.60,390.80) rotate(-45)"><text x="0.00" y="8.50" font-size="10.60" text-anchor="end" fill="#333333" stroke="#333333" stroke-width="0.2" textLength="37.77" lengthAdjust="spacingAndGlyphs">Gender</text><text x="0.00" y="20.10" font-size="10.60" text-anchor="end" fill="#333333" stroke="#333333" stroke-width="0.2" textLength="73.68" lengthAdjust="spacingAndGlyphs">Differentiation</text></g>
<g class="xl" transform="translate(445.60,390.80) rotate(-45)"><text x="0.00" y="8.50" font-size="10.60" text-anchor="end" fill="#333333" stroke="#333333" stroke-width="0.2" textLength="67.76" lengthAdjust="spacingAndGlyphs">Heterosexual</text><text x="0.00" y="20.10" font-size="10.60" text-anchor="end" fill="#333333" stroke="#333333" stroke-width="0.2" textLength="44.35" lengthAdjust="spacingAndGlyphs">Intimacy</text></g>
<defs><linearGradient id="cb" x1="0" y1="1" x2="0" y2="0">
<stop offset="0.0000" stop-color="#284cc0"/>
<stop offset="0.0156" stop-color="#2c53c6"/>
<stop offset="0.0312" stop-color="#315acc"/>
<stop offset="0.0469" stop-color="#3661d2"/>
<stop offset="0.0625" stop-color="#3a68d8"/>
<stop offset="0.0781" stop-color="#3f6edd"/>
<stop offset="0.0938" stop-color="#4475e1"/>
<stop offset="0.1094" stop-color="#497ce6"/>
<stop offset="0.1250" stop-color="#4f82ea"/>
<stop offset="0.1406" stop-color="#5488ee"/>
<stop offset="0.1562" stop-color="#5a8ff1"/>
<stop offset="0.1719" stop-color="#6095f4"/>
<stop offset="0.1875" stop-color="#659af7"/>
<stop offset="0.2031" stop-color="#6ba0f9"/>
<stop offset="0.2188" stop-color="#71a6fb"/>
<stop offset="0.2344" stop-color="#77abfd"/>
<stop offset="0.2500" stop-color="#7eb0fe"/>
<stop offset="0.2656" stop-color="#84b5fe"/>
<stop offset="0.2812" stop-color="#8ab9ff"/>
<stop offset="0.2969" stop-color="#90beff"/>
<stop offset="0.3125" stop-color="#97c2fe"/>
<stop offset="0.3281" stop-color="#9dc6fd"/>
<stop offset="0.3438" stop-color="#a3c9fc"/>
<stop offset="0.3594" stop-color="#a9cdfb"/>
<stop offset="0.3750" stop-color="#b0d0f9"/>
<stop offset="0.3906" stop-color="#b6d2f6"/>
<stop offset="0.4062" stop-color="#bcd5f4"/>
<stop offset="0.4219" stop-color="#c2d7f0"/>
<stop offset="0.4375" stop-color="#c8d9ed"/>
<stop offset="0.4531" stop-color="#cddae9"/>
<stop offset="0.4688" stop-color="#d3dbe5"/>
<stop offset="0.4844" stop-color="#d8dce1"/>
<stop offset="0.5000" stop-color="#dddcdc"/>
<stop offset="0.5156" stop-color="#e4dad6"/>
<stop offset="0.5312" stop-color="#ead7cf"/>
<stop offset="0.5469" stop-color="#efd4c9"/>
<stop offset="0.5625" stop-color="#f5d1c3"/>
<stop offset="0.5781" stop-color="#f9cdbc"/>
<stop offset="0.5938" stop-color="#fec9b6"/>
<stop offset="0.6094" stop-color="#ffc4af"/>
<stop offset="0.6250" stop-color="#ffc0a8"/>
<stop offset="0.6406" stop-color="#ffbba2"/>
<stop offset="0.6562" stop-color="#ffb69b"/>
<stop offset="0.6719" stop-color="#ffb194"/>
<stop offset="0.6875" stop-color="#ffab8e"/>
<stop offset="0.7031" stop-color="#ffa587"/>
<stop offset="0.7188" stop-color="#ff9f80"/>
<stop offset="0.7344" stop-color="#ff997a"/>
<stop offset="0.7500" stop-color="#ff9274"/>
<stop offset="0.7656" stop-color="#ff8c6d"/>
<stop offset="0.7812" stop-color="#ff8567"/>
<stop offset="0.7969" stop-color="#ff7e61"/>
<stop offset="0.8125" stop-color="#ff765b"/>
<stop offset="0.8281" stop-color="#ff6f55"/>
<stop offset="0.8438" stop-color="#ff674f"/>
<stop offset="0.8594" stop-color="#ff5f4a"/>
<stop offset="0.8750" stop-color="#fd5744"/>
<stop offset="0.8906" stop-color="#f84f3f"/>
<stop offset="0.9062" stop-color="#f4463a"/>
<stop offset="0.9219" stop-color="#ef3d35"/>
<stop offset="0.9375" stop-color="#ea3430"/>
<stop offset="0.9531" stop-color="#e4292b"/>
<stop offset="0.9688" stop-color="#de1c27"/>
<stop offset="0.9844" stop-color="#d80a22"/>
<stop offset="1.0000" stop-color="#d3001f"/>
</linearGradient></defs>
<rect x="506.0" y="10.3" width="19.5" height="377.2" fill="url(#cb)" stroke="#333" stroke-width="0.8"/>
<line x1="525.5" y1="362.35" x2="522.5" y2="362.35" stroke="#333" stroke-width="0.8"/>
<text x="528.30" y="366.65" font-size="10.60" text-anchor="start" fill="#333333" stroke="#333333" stroke-width="0.2" textLength="16.30" lengthAdjust="spacingAndGlyphs">0.3</text>
<line x1="525.5" y1="312.06" x2="522.5" y2="312.06" stroke="#333" stroke-width="0.8"/>
<text x="528.30" y="316.36" font-size="10.60" text-anchor="start" fill="#333333" stroke="#333333" stroke-width="0.2" textLength="16.30" lengthAdjust="spacingAndGlyphs">0.4</text>
<line x1="525.5" y1="261.77" x2="522.5" y2="261.77" stroke="#333" stroke-width="0.8"/>
<text x="528.30" y="266.07" font-size="10.60" text-anchor="start" fill="#333333" stroke="#333333" stroke-width="0.2" textLength="16.30" lengthAdjust="spacingAndGlyphs">0.5</text>
<line x1="525.5" y1="211.47" x2="522.5" y2="211.47" stroke="#333" stroke-width="0.8"/>
<text x="528.30" y="215.77" font-size="10.60" text-anchor="start" fill="#333333" stroke="#333333" stroke-width="0.2" textLength="16.30" lengthAdjust="spacingAndGlyphs">0.6</text>
<line x1="525.5" y1="161.18" x2="522.5" y2="161.18" stroke="#333" stroke-width="0.8"/>
<text x="528.30" y="165.48" font-size="10.60" text-anchor="start" fill="#333333" stroke="#333333" stroke-width="0.2" textLength="16.30" lengthAdjust="spacingAndGlyphs">0.7</text>
<line x1="525.5" y1="110.89" x2="522.5" y2="110.89" stroke="#333" stroke-width="0.8"/>
<text x="528.30" y="115.19" font-size="10.60" text-anchor="start" fill="#333333" stroke="#333333" stroke-width="0.2" textLength="16.30" lengthAdjust="spacingAndGlyphs">0.8</text>
<line x1="525.5" y1="60.59" x2="522.5" y2="60.59" stroke="#333" stroke-width="0.8"/>
<text x="528.30" y="64.89" font-size="10.60" text-anchor="start" fill="#333333" stroke="#333333" stroke-width="0.2" textLength="16.30" lengthAdjust="spacingAndGlyphs">0.9</text>
<line x1="525.5" y1="10.30" x2="522.5" y2="10.30" stroke="#333" stroke-width="0.8"/>
<text x="528.30" y="14.60" font-size="10.60" text-anchor="start" fill="#333333" stroke="#333333" stroke-width="0.2" textLength="16.30" lengthAdjust="spacingAndGlyphs">1.0</text>
</svg></body></html>
